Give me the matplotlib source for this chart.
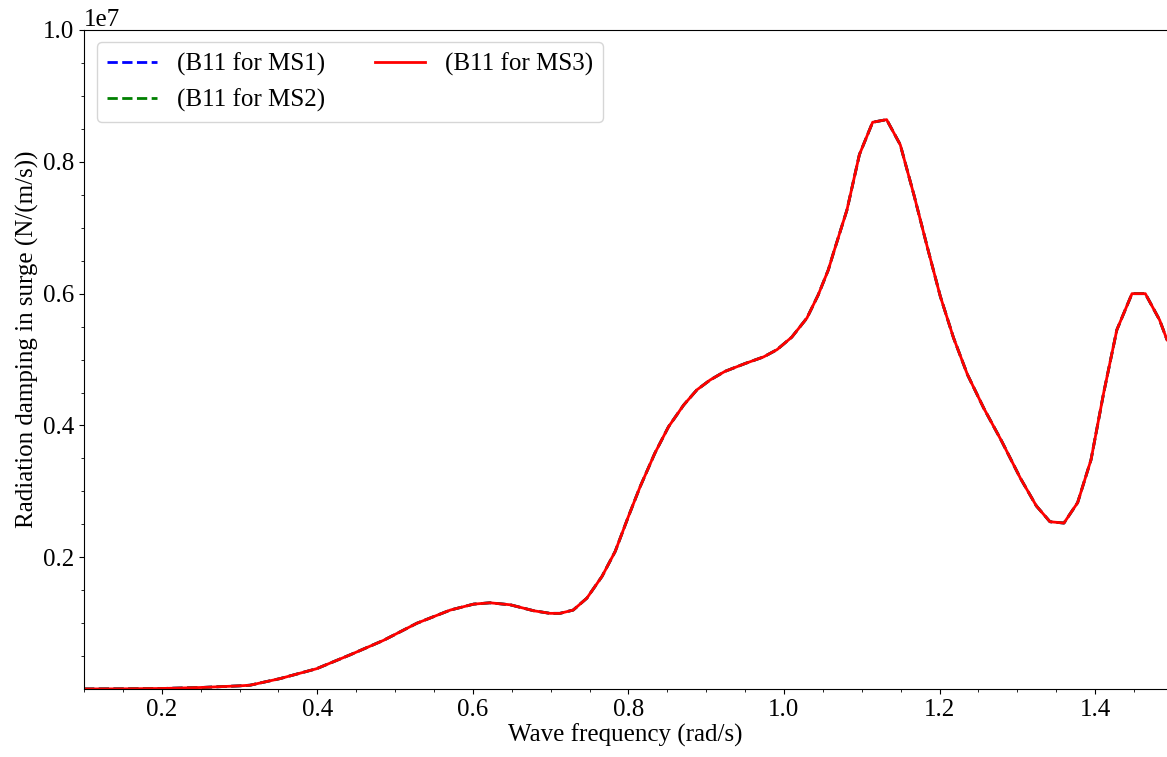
import numpy as np
import matplotlib
matplotlib.use("Agg")
import matplotlib.pyplot as plt
from matplotlib.ticker import MultipleLocator

plt.rcParams['font.family'] = ['Liberation Serif', 'DejaVu Serif']

# wave frequency (rad/s)
freq = [0.10, 0.15, 0.20, 0.25, 0.30, 0.3135, 0.352, 0.399, 0.442, 0.485,
        0.528, 0.571, 0.601, 0.622, 0.648, 0.678, 0.699, 0.712, 0.729, 0.7465,
        0.766, 0.783, 0.800, 0.815, 0.834, 0.8515, 0.871, 0.888, 0.905, 0.924,
        0.950, 0.9737, 0.991, 1.010, 1.0295, 1.044, 1.057, 1.0637, 1.081, 1.097,
        1.114, 1.132, 1.1495, 1.1675, 1.184, 1.201, 1.218, 1.236, 1.257, 1.280,
        1.304, 1.3245, 1.342, 1.360, 1.3776, 1.3948, 1.411, 1.428, 1.4475, 1.4646,
        1.483, 1.4925]

# radiation damping B11 (x 1e6 N/(m/s)), the three mooring systems overlap
b11_ms3 = [0.003, 0.005, 0.01, 0.025, 0.05, 0.06, 0.16, 0.31, 0.52, 0.74,
           1.00, 1.20, 1.29, 1.31, 1.28, 1.19, 1.15, 1.15, 1.20, 1.38,
           1.71, 2.09, 2.62, 3.07, 3.58, 3.98, 4.31, 4.54, 4.69, 4.82,
           4.94, 5.04, 5.15, 5.34, 5.63, 5.98, 6.36, 6.62, 7.27, 8.11,
           8.60, 8.64, 8.26, 7.48, 6.72, 5.96, 5.33, 4.77, 4.26, 3.76,
           3.20, 2.78, 2.54, 2.52, 2.83, 3.48, 4.49, 5.45, 6.00, 6.00,
           5.60, 5.30]
b11_ms1 = b11_ms3
b11_ms2 = b11_ms3

fs = 18

fig = plt.figure(figsize=(11.67, 7.57), dpi=100)
ax = fig.add_axes([0.072, 0.0898, 0.928, 0.8706])

ax.plot(freq, np.array(b11_ms1) * 1e6, '--', color='blue', lw=2, label='(B11 for MS1)')
ax.plot(freq, np.array(b11_ms2) * 1e6, '--', color='green', lw=2, label='(B11 for MS2)')
ax.plot(freq, np.array(b11_ms3) * 1e6, '-', color='red', lw=2, label='(B11 for MS3)')

ax.set_xlim(0.1, 1.4925)
ax.set_ylim(2e3, 1e7)
ax.xaxis.set_major_locator(MultipleLocator(0.2))
ax.xaxis.set_minor_locator(MultipleLocator(0.05))
ax.yaxis.set_major_locator(MultipleLocator(2e6))
ax.yaxis.set_minor_locator(MultipleLocator(5e5))
ax.tick_params(labelsize=fs)
ax.yaxis.get_offset_text().set_fontsize(fs)
ax.spines['right'].set_visible(False)

ax.set_xlabel('Wave frequency (rad/s)', fontsize=fs, labelpad=2)
ax.set_ylabel('Radiation damping in surge (N/(m/s))', fontsize=fs)
ax.yaxis.set_label_coords(-0.042, 0.53)
ax.legend(loc='upper left', ncol=2, fontsize=fs)

fig.savefig('out.png', dpi=100)
